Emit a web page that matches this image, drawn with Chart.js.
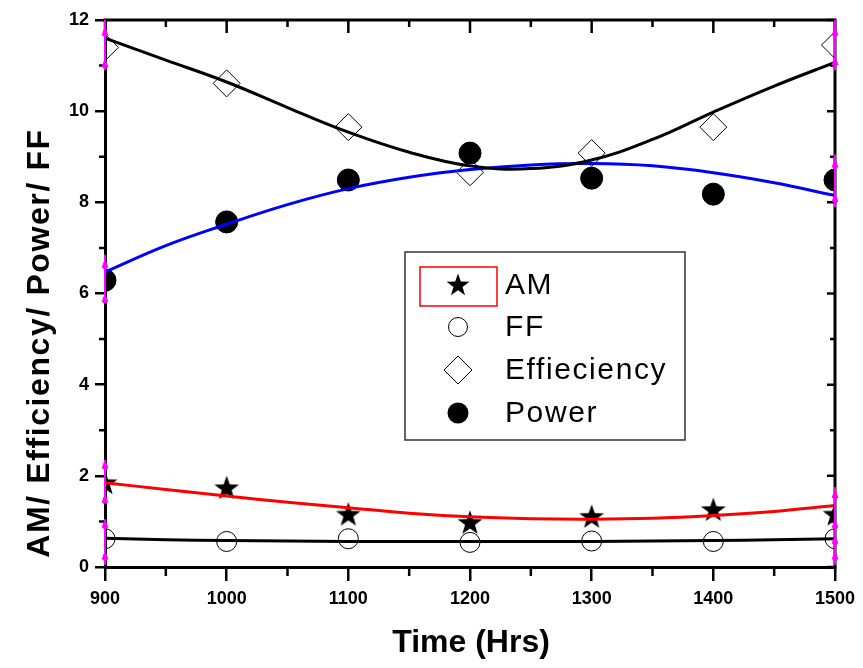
<!DOCTYPE html>
<html lang="en">
<head>
<meta charset="UTF-8">
<title>AM / Efficiency / Power / FF</title>
<style>
  body { margin: 0; background: #fff; }
  #wrap { width: 863px; height: 668px; }
</style>
<script src="https://cdn.jsdelivr.net/npm/chart.js"></script>
</head>
<body>
<div id="wrap"><canvas id="chart" width="863" height="668"></canvas></div>
<script>
// measured points
var hours = [900, 1000, 1100, 1200, 1300, 1400, 1500];
var amValues = [1.84, 1.73, 1.15, 0.97, 1.10, 1.25, 1.15];
var ffValues = [0.62, 0.56, 0.62, 0.54, 0.57, 0.56, 0.62];
var effValues = [11.40, 10.61, 9.65, 8.66, 9.08, 9.65, 11.45];
var powerValues = [6.29, 7.57, 8.49, 9.08, 8.53, 8.18, 8.49];

// fitted curves, every 50 hrs
var fitHours = [900, 950, 1000, 1050, 1100, 1150, 1200, 1250, 1300, 1350, 1400, 1450, 1500];
var amFit = [1.85, 1.70, 1.56, 1.42, 1.30, 1.18, 1.10, 1.06, 1.05, 1.07, 1.13, 1.22, 1.35];
var ffFit = [0.63, 0.60, 0.58, 0.57, 0.56, 0.56, 0.56, 0.56, 0.56, 0.57, 0.58, 0.60, 0.62];
var effFit = [11.60, 11.12, 10.64, 10.08, 9.54, 9.10, 8.80, 8.74, 8.93, 9.38, 9.98, 10.55, 11.07];
var powerFit = [6.47, 7.05, 7.52, 7.95, 8.30, 8.55, 8.72, 8.82, 8.85, 8.80, 8.65, 8.43, 8.15];

// magenta end handles of the fits: [hours, from, to, handle1, handle2]
var endHandles = [
  [900, 12.0, 10.9, 11.75, 11.05],
  [900, 6.85, 5.8, 6.65, 5.9],
  [900, 2.35, 1.45, 2.25, 1.5],
  [900, 1.05, 0.05, 0.95, 0.25],
  [1500, 12.0, 10.9, 11.75, 11.1],
  [1500, 9.05, 7.9, 8.85, 8.1],
  [1500, 1.75, 0.85, 1.6, 0.95],
  [1500, 0.85, 0.05, 0.6, 0.25]
];

var legendNames = ['AM', 'FF', 'Effieciency', 'Power'];
var yTitle = 'AM/ Efficiency/ Power/ FF';
var xTitle = 'Time (Hrs)';

function pairs(xs, ys) {
  return xs.map(function (x, i) { return { x: x, y: ys[i] }; });
}

function starPath(c, cx, cy, outer, inner) {
  c.beginPath();
  for (var i = 0; i < 10; i++) {
    var r = i % 2 === 0 ? outer : inner;
    var ang = -Math.PI / 2 + i * Math.PI / 5;
    var px = cx + r * Math.cos(ang), py = cy + r * Math.sin(ang);
    if (i === 0) c.moveTo(px, py); else c.lineTo(px, py);
  }
  c.closePath();
}

var starImg = document.createElement('canvas');
starImg.width = 28; starImg.height = 28;
(function () {
  var sc = starImg.getContext('2d');
  sc.fillStyle = '#000';
  starPath(sc, 14, 14.5, 13, 5.2);
  sc.fill();
})();

var frameAndHandles = {
  id: 'frameAndHandles',
  afterDraw: function (chart) {
    var c = chart.ctx, a = chart.chartArea;
    var xs = chart.scales.x, ys = chart.scales.y;
    c.save();
    c.strokeStyle = '#000';
    c.lineCap = 'butt';

    // top and right axis lines
    c.lineWidth = 3;
    c.beginPath();
    c.moveTo(a.left - 1.5, a.top);
    c.lineTo(a.right, a.top);
    c.lineTo(a.right, a.bottom + 1.5);
    c.stroke();

    c.lineWidth = 2.5;
    c.beginPath();
    var xt = xs.ticks.map(function (t) { return t.value; });
    xt.forEach(function (v, i) {
      var px = xs.getPixelForValue(v);
      c.moveTo(px, a.top); c.lineTo(px, a.top + 13);
      if (i < xt.length - 1) {
        var mx = xs.getPixelForValue((v + xt[i + 1]) / 2);
        c.moveTo(mx, a.bottom); c.lineTo(mx, a.bottom + 9);
        c.moveTo(mx, a.top); c.lineTo(mx, a.top + 7);
      }
    });
    var yt = ys.ticks.map(function (t) { return t.value; });
    yt.forEach(function (v, i) {
      var py = ys.getPixelForValue(v);
      c.moveTo(a.right, py); c.lineTo(a.right - 8, py);
      if (i < yt.length - 1) {
        var my = ys.getPixelForValue((v + yt[i + 1]) / 2);
        c.moveTo(a.left, my); c.lineTo(a.left - 6, my);
        c.moveTo(a.right, my); c.lineTo(a.right - 5, my);
      }
    });
    c.stroke();

    // magenta handles
    c.strokeStyle = '#ff00ff';
    c.fillStyle = '#ff00ff';
    c.lineWidth = 2;
    endHandles.forEach(function (h) {
      var px = xs.getPixelForValue(h[0]);
      c.beginPath();
      c.moveTo(px, ys.getPixelForValue(h[1]));
      c.lineTo(px, ys.getPixelForValue(h[2]));
      c.stroke();
      [h[3], h[4]].forEach(function (v) {
        var py = ys.getPixelForValue(v);
        c.beginPath();
        c.moveTo(px - 3.5, py + 4); c.lineTo(px, py - 5); c.lineTo(px + 3.5, py + 4);
        c.closePath();
        c.fill();
        c.fillRect(px - 2, py - 1, 4, 6);
      });
    });

    // axis titles
    c.fillStyle = '#000';
    c.textAlign = 'center';
    c.textBaseline = 'middle';
    c.font = 'bold 32px Arial, "Liberation Sans", sans-serif';
    c.letterSpacing = '0px';
    c.fillText(xTitle, 471, 643);
    c.save();
    c.translate(40, 343);
    c.rotate(-Math.PI / 2);
    c.letterSpacing = '1.6px';
    c.fillText(yTitle, 0, 0);
    c.restore();

    // legend
    var bx = 405, by = 252, bw = 280, bh = 188;
    c.strokeStyle = '#333';
    c.lineWidth = 1.5;
    c.strokeRect(bx, by, bw, bh);
    c.strokeStyle = '#ff0000';
    c.lineWidth = 1.5;
    c.strokeRect(420, 267, 77, 39);

    var rowY = [285, 327, 370, 413];
    var sx = 458;
    c.fillStyle = '#000';
    c.strokeStyle = '#000';
    c.lineWidth = 1;
    starPath(c, sx, rowY[0] + 0.5, 12, 4.8); c.fill();
    c.beginPath(); c.arc(sx, rowY[1], 9.5, 0, Math.PI * 2); c.stroke();
    c.beginPath();
    c.moveTo(sx, rowY[2] - 14); c.lineTo(sx + 14, rowY[2]);
    c.lineTo(sx, rowY[2] + 14); c.lineTo(sx - 14, rowY[2]); c.closePath(); c.stroke();
    c.beginPath(); c.arc(sx, rowY[3], 10.5, 0, Math.PI * 2); c.fill();

    c.font = '30px Arial, "Liberation Sans", sans-serif';
    c.letterSpacing = '1.6px';
    c.textBaseline = 'middle';
    c.textAlign = 'left';
    legendNames.forEach(function (name, i) {
      c.fillText(name, 505, rowY[i] + 1);
    });
    c.restore();
  }
};

var tickFont = { family: 'Arial, "Liberation Sans", sans-serif', size: 18, weight: 'bold' };

new Chart(document.getElementById('chart'), {
  type: 'scatter',
  data: {
    datasets: [
      { label: 'AM fit', data: pairs(fitHours, amFit), showLine: true, borderColor: '#ff0000', borderWidth: 3, pointRadius: 0, tension: 0.4, order: 1 },
      { label: 'FF fit', data: pairs(fitHours, ffFit), showLine: true, borderColor: '#000', borderWidth: 3, pointRadius: 0, tension: 0.4, order: 1 },
      { label: 'Eff fit', data: pairs(fitHours, effFit), showLine: true, borderColor: '#000', borderWidth: 3, pointRadius: 0, tension: 0.4, order: 1 },
      { label: 'Power fit', data: pairs(fitHours, powerFit), showLine: true, borderColor: '#0000ff', borderWidth: 3, pointRadius: 0, tension: 0.4, order: 1 },
      { label: 'AM', data: pairs(hours, amValues), pointStyle: starImg, pointRadius: 13, order: 2, clip: 0 },
      { label: 'FF', data: pairs(hours, ffValues), pointStyle: 'circle', pointRadius: 10, backgroundColor: 'rgba(0,0,0,0)', borderColor: '#000', borderWidth: 1, order: 2, clip: 0 },
      { label: 'Effieciency', data: pairs(hours, effValues), pointStyle: 'rectRot', pointRadius: 13.5, backgroundColor: 'rgba(0,0,0,0)', borderColor: '#000', borderWidth: 1, order: 2, clip: 0 },
      { label: 'Power', data: pairs(hours, powerValues), pointStyle: 'circle', pointRadius: 11, backgroundColor: '#000', borderColor: '#000', borderWidth: 1, order: 2, clip: 0 }
    ]
  },
  options: {
    responsive: false,
    animation: false,
    layout: { padding: { top: 20, right: 28, left: 0, bottom: 0 } },
    plugins: { legend: { display: false }, tooltip: { enabled: false } },
    scales: {
      x: {
        type: 'linear',
        min: 900, max: 1500,
        afterFit: function (s) { s.height = 101; },
        ticks: { stepSize: 100, color: '#000', font: tickFont, padding: 7, maxRotation: 0,
                 callback: function (v) { return String(v); } },
        grid: { drawOnChartArea: false, drawTicks: true, tickLength: 14, color: '#000', lineWidth: 2.5 },
        border: { color: '#000', width: 3 },
        title: { display: false }
      },
      y: {
        min: 0, max: 12,
        afterFit: function (s) { s.width = 105; },
        ticks: { stepSize: 2, color: '#000', font: tickFont, padding: 6,
                 callback: function (v) { return String(v); } },
        grid: { drawOnChartArea: false, drawTicks: true, tickLength: 10, color: '#000', lineWidth: 2.5 },
        border: { color: '#000', width: 3 },
        title: { display: false }
      }
    }
  },
  plugins: [frameAndHandles]
});
</script>
</body>
</html>
